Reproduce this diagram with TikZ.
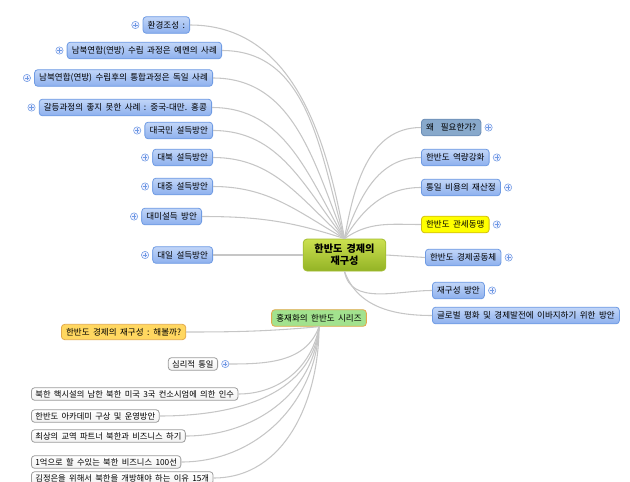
\documentclass[tikz,border=0pt]{standalone}
\usepackage{fontspec}
\setmainfont{Noto Sans CJK KR}[WordSpace=1.8]
\usetikzlibrary{positioning}

\definecolor{blueline}{HTML}{6F9BE3}
\definecolor{bluetop}{HTML}{C2D6F8}
\definecolor{bluebot}{HTML}{8DB0EE}
\definecolor{steelfill}{HTML}{88A9CB}
\definecolor{steelline}{HTML}{6B8DB6}
\definecolor{yellowline}{HTML}{D2BE10}
\definecolor{greentop}{HTML}{CCE150}
\definecolor{greenbot}{HTML}{93B325}
\definecolor{greenline}{HTML}{A2BC30}
\definecolor{seriesfill}{HTML}{A2E28E}
\definecolor{orangeline}{HTML}{E2A84A}
\definecolor{askfill}{HTML}{FFD760}
\definecolor{grayline}{HTML}{9C9C9C}
\definecolor{grayfill}{HTML}{F1F1F1}
\definecolor{linkgray}{HTML}{C6C6C6}

\tikzset{
  topic/.style={draw=blueline, line width=0.6pt, rounded corners=2.5pt,
    top color=bluetop, bottom color=bluebot,
    font=\fontsize{6.4}{7.5}\selectfont, inner xsep=3.5pt, inner ysep=0pt,
    minimum height=12.5pt},
  steeltopic/.style={topic, draw=steelline, top color=steelfill, bottom color=steelfill},
  yellowtopic/.style={topic, draw=yellowline, top color=yellow, bottom color=yellow},
  maintopic/.style={draw=greenline, line width=0.6pt, rounded corners=3pt,
    top color=greentop, bottom color=greenbot, align=center,
    font=\fontsize{7.6}{9}\selectfont\bfseries, minimum width=62pt, minimum height=24pt},
  seriestopic/.style={topic, draw=orangeline, top color=seriesfill, bottom color=seriesfill},
  asktopic/.style={topic, draw=orangeline, top color=askfill, bottom color=askfill,
    minimum height=11.5pt},
  subtopic/.style={topic, draw=grayline, top color=white, bottom color=grayfill,
    font=\fontsize{6.2}{7}\selectfont, minimum height=9.5pt, inner xsep=3pt},
  plusicon/.style={circle, draw=blueline, fill=blue!6, line width=0.4pt,
    inner sep=0pt, minimum size=5.5pt,
    path picture={
      \draw[blueline, line width=0.4pt] ([xshift=-1.6pt]path picture bounding box.center)
        -- ([xshift=1.6pt]path picture bounding box.center);
      \draw[blueline, line width=0.4pt] ([yshift=-1.6pt]path picture bounding box.center)
        -- ([yshift=1.6pt]path picture bounding box.center);}},
  link/.style={draw=linkgray, line width=0.8pt}
}

\begin{document}
\begin{tikzpicture}[x=0.75pt, y=-0.75pt]
  \useasboundingbox (0,0) rectangle (630,481);

  % Central topic
  \node[maintopic] (c) at (344.5,255) {한반도 경제의\\재구성};

  % Left branches
  \node[topic, anchor=east] (l1) at (190,25) {환경조성 :};
  \node[topic, anchor=east] (l2) at (222,50.5) {남북연합(연방) 수립 과정은 예멘의 사례};
  \node[topic, anchor=east] (l3) at (213,78) {남북연합(연방) 수립후의 통합과정은 독일 사례};
  \node[topic, anchor=east] (l4) at (212,107.5) {갈등과정의 좋지 못한 사례 : 중국-대만. 홍콩};
  \node[topic, anchor=east] (l5) at (213,130.5) {대국민 설득방안};
  \node[topic, anchor=east] (l6) at (213,157.5) {대북 설득방안};
  \node[topic, anchor=east] (l7) at (213,186.5) {대중 설득방안};
  \node[topic, anchor=east] (l8) at (202,216.5) {대미설득 방안};
  \node[topic, anchor=east] (l9) at (213,255) {대일 설득방안};
  \foreach \n in {l1,l2,l3,l4,l5,l6,l7,l8,l9}
    \node[plusicon, left=2.5pt of \n] (\n p) {};

  % Right branches
  \node[steeltopic, anchor=west] (r1) at (421,127.5) {왜 \ 필요한가?};
  \node[topic, anchor=west] (r2) at (421,157.5) {한반도 역량강화};
  \node[topic, anchor=west] (r3) at (421,187.5) {통일 비용의 재산정};
  \node[yellowtopic, anchor=west] (r4) at (421,224.5) {한반도 관세동맹};
  \node[topic, anchor=west] (r5) at (425,257.5) {한반도 경제공동체};
  \node[topic, anchor=west] (r6) at (432,290.5) {재구성 방안};
  \node[topic, anchor=west] (r7) at (432,315.5) {글로벌 평화 및 경제발전에 이바지하기 위한 방안};
  \foreach \n in {r1,r2,r3,r4,r5,r6}
    \node[plusicon, right=2.5pt of \n] (\n p) {};

  % Links from the central topic
  \draw[link] (c.north) to[out=100, in=0] (l1.east);
  \draw[link] (c.north) to[out=106, in=0] (l2.east);
  \draw[link] (c.north) to[out=112, in=0] (l3.east);
  \draw[link] (c.north) to[out=120, in=0] (l4.east);
  \draw[link] (c.north) to[out=128, in=0] (l5.east);
  \draw[link] (c.north) to[out=138, in=0] (l6.east);
  \draw[link] (c.north) to[out=150, in=0] (l7.east);
  \draw[link] (c.north) to[out=162, in=0] (l8.east);
  \draw[link] (c.west) -- (l9.east);
  \draw[link] (c.north) to[out=80, in=180] (r1.west);
  \draw[link] (c.north) to[out=70, in=180] (r2.west);
  \draw[link] (c.north) to[out=58, in=180] (r3.west);
  \draw[link] (c.north) to[out=35, in=180] (r4.west);
  \draw[link] (c.east) -- (r5.west);
  \draw[link] (c.south) to[out=-80, in=180] (r6.west);
  \draw[link] (c.south) to[out=-70, in=180] (r7.west);

  % Floating series topic
  \node[seriestopic] (s) at (319,318) {홍재화의 한반도 시리즈};
  \node[asktopic, anchor=west] (b0) at (61,332) {한반도 경제의 재구성 : 해볼까?};
  \node[subtopic, anchor=east] (b1) at (218,364) {심리적 통일};
  \node[plusicon, right=2.5pt of b1] (b1p) {};
  \node[subtopic, anchor=west] (b2) at (31,394) {북한 핵시설의 남한 북한 미국 3국 컨소시엄에 의한 인수};
  \node[subtopic, anchor=west] (b3) at (31,416) {한반도 아카데미 구상 및 운영방안};
  \node[subtopic, anchor=west] (b4) at (31,436) {최상의 교역 파트너 북한과 비즈니스 하기};
  \node[subtopic, anchor=west] (b5) at (31,462) {1억으로 할 수있는 북한 비즈니스 100선};
  \node[subtopic, anchor=west] (b6) at (31,478) {김정은을 위해서 북한을 개방해야 하는 이유 15개};

  % Links from the series topic
  \draw[link] (s.south) to[out=-175, in=0] (b0.east);
  \draw[link] (s.south) to[out=-110, in=0] (b1p.east);
  \draw[link] (s.south) to[out=-100, in=0] (b2.east);
  \draw[link] (s.south) to[out=-96, in=0] (b3.east);
  \draw[link] (s.south) to[out=-94, in=0] (b4.east);
  \draw[link] (s.south) to[out=-92, in=0] (b5.east);
  \draw[link] (s.south) to[out=-90, in=0] (b6.east);
\end{tikzpicture}
\end{document}
